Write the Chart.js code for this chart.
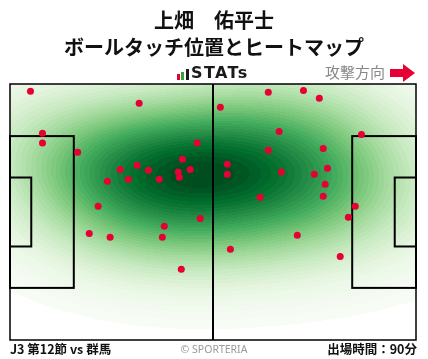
<!DOCTYPE html>
<html lang="ja">
<head>
<meta charset="utf-8">
<script src="https://cdn.jsdelivr.net/npm/chart.js@4.4.0/dist/chart.umd.min.js"></script>
<style>
  html, body { margin: 0; padding: 0; background: #fff; }
  #wrap { position: relative; width: 428px; height: 359px; overflow: hidden; font-family: "Noto Sans CJK JP", sans-serif; }
  #wrap canvas { position: absolute; left: 0; top: 0; }
  .title { position: absolute; left: 0; width: 428px; text-align: center; font-weight: 700; font-size: 20px; line-height: 24px; color: #111; white-space: nowrap; }
  .stats { position: absolute; left: 177px; top: 63px; height: 20px; }
  .stats i { position: absolute; bottom: 3px; width: 3px; }
  .stats span { position: absolute; left: 14px; top: 0; font-family: "DejaVu Sans", sans-serif; font-weight: 700; font-size: 16px; line-height: 20px; letter-spacing: 1.4px; color: #1a1a1a; }
  .dir { position: absolute; left: 325px; top: 62px; font-size: 15px; line-height: 20px; color: #888; }
  .arrow { position: absolute; left: 390px; top: 64px; }
  .foot { position: absolute; top: 341px; font-size: 12.5px; line-height: 16px; font-weight: 700; color: #111; white-space: nowrap; }
  .copy { position: absolute; top: 341px; left: 0; width: 428px; text-align: center; font-family: "Noto Sans", sans-serif; font-size: 10.5px; line-height: 16px; color: #999; }
</style>
</head>
<body>
<div id="wrap">
  <canvas id="pitch-chart" width="428" height="359"></canvas>
  <div class="title" style="top:8px">上畑　佑平士</div>
  <div class="title" style="top:35px">ボールタッチ位置とヒートマップ</div>
  <div class="stats">
    <i style="left:0;height:6px;background:#e60033"></i>
    <i style="left:4px;height:8px;background:#3aa335"></i>
    <i style="left:8.5px;height:11px;background:#1a1a1a"></i>
    <span>STATs</span>
  </div>
  <div class="dir">攻撃方向</div>
  <svg class="arrow" width="25" height="18" viewBox="0 0 25 18">
    <polygon points="0,5 13,5 13,0 25,9 13,18 13,13 0,13" fill="#e60033"/>
  </svg>
  <div class="foot" style="left:10px">J3 第12節 vs 群馬</div>
  <div class="copy">© SPORTERIA</div>
  <div class="foot" style="right:11px">出場時間：90分</div>
</div>
<script>
// ピッチサイズ (m)
const pitchLength = 105;
const pitchWidth = 68;

// ボールタッチ位置
const touchX = [5.3, 8.4, 8.4, 17.5, 25.2, 22.8, 33.4, 48.4, 44.6, 32.9, 28.5, 35.8, 46.6, 43.5, 43.8,
  30.6, 38.6, 66.8, 75.9, 54.4, 69.6, 66.8, 56.2, 56.2, 70.2, 64.7, 80.0, 90.9, 81.0, 82.1,
  78.7, 81.5, 81.0, 89.3, 49.2, 39.9, 20.5, 25.9, 39.4, 44.3, 87.5, 74.3, 57.0, 85.4];
const touchY = [66.1, 54.9, 52.3, 49.9, 42.2, 35.5, 62.9, 52.3, 48.0, 46.4, 45.3, 45.1, 45.3, 44.6, 43.2,
  42.7, 42.7, 65.8, 66.3, 61.8, 55.4, 50.4, 46.7, 44.0, 44.6, 37.9, 64.2, 54.6, 50.9, 45.6,
  44.0, 41.4, 38.2, 35.5, 32.3, 30.2, 28.3, 27.3, 27.3, 18.8, 32.6, 27.8, 24.1, 22.2];

// Greens カラーマップ
const greens = ["#f7fcf5", "#e5f5e0", "#c7e9c0", "#a1d99b", "#74c476", "#41ab5d", "#238b45", "#006d2c", "#00441b"];
const greensRGB = greens.map((h) => [1, 3, 5].map((i) => parseInt(h.substr(i, 2), 16)));

function greenAt(t) {
  const p = Math.min(Math.max(t, 0), 1) * (greensRGB.length - 1);
  const i = Math.min(Math.floor(p), greensRGB.length - 2);
  const f = p - i;
  return greensRGB[i].map((c, k) => c + (greensRGB[i + 1][k] - c) * f);
}

// ガウスKDE (Scott則 × bwAdjust)
function makeKde(xs, ys, bwAdjust) {
  const n = xs.length;
  const mx = xs.reduce((s, v) => s + v, 0) / n;
  const my = ys.reduce((s, v) => s + v, 0) / n;
  let sxx = 0, syy = 0, sxy = 0;
  for (let i = 0; i < n; i++) {
    const dx = xs[i] - mx, dy = ys[i] - my;
    sxx += dx * dx; syy += dy * dy; sxy += dx * dy;
  }
  const f2 = Math.pow(n, -2 / 6) * bwAdjust * bwAdjust;
  const cxx = (sxx / (n - 1)) * f2, cyy = (syy / (n - 1)) * f2, cxy = (sxy / (n - 1)) * f2;
  const det = cxx * cyy - cxy * cxy;
  const ixx = cyy / det, iyy = cxx / det, ixy = -cxy / det;
  return (vx, vy) => {
    let s = 0;
    for (let k = 0; k < n; k++) {
      const dx = vx - xs[k], dy = vy - ys[k];
      s += Math.exp(-0.5 * (ixx * dx * dx + 2 * ixy * dx * dy + iyy * dy * dy));
    }
    return s;
  };
}

// ヒートマップ
const heatmapPlugin = {
  id: "heatmap",
  beforeDatasetsDraw(chart) {
    const { ctx, chartArea: a, scales } = chart;
    const w = Math.round(a.right - a.left);
    const h = Math.round(a.bottom - a.top);
    const kde = makeKde(touchX, touchY, 1.75);

    const grid = new Float64Array(w * h);
    let dmax = 0;
    for (let j = 0; j < h; j++) {
      const vy = scales.y.getValueForPixel(a.top + j + 0.5);
      for (let i = 0; i < w; i++) {
        const d = kde(scales.x.getValueForPixel(a.left + i + 0.5), vy);
        grid[j * w + i] = d;
        if (d > dmax) dmax = d;
      }
    }

    const level = dmax * 0.05; // これ以下は描かない
    const levels = 40;
    const off = document.createElement("canvas");
    off.width = w; off.height = h;
    const octx = off.getContext("2d");
    const img = octx.createImageData(w, h);
    for (let p = 0; p < w * h; p++) {
      const d = grid[p];
      if (d < level) continue;
      const t = Math.floor(((d - level) / (dmax - level)) * levels) / levels;
      const c = greenAt(Math.pow(t, 1.1));
      img.data[p * 4] = c[0];
      img.data[p * 4 + 1] = c[1];
      img.data[p * 4 + 2] = c[2];
      img.data[p * 4 + 3] = 255;
    }
    octx.putImageData(img, 0, 0);
    ctx.drawImage(off, a.left, a.top);
  },
};

// ピッチのライン
const pitchPlugin = {
  id: "pitchLines",
  beforeDatasetsDraw(chart) {
    const { ctx, scales: { x, y } } = chart;
    const rect = (x0, y0, x1, y1) => {
      const px0 = x.getPixelForValue(x0), px1 = x.getPixelForValue(x1);
      const py0 = y.getPixelForValue(y0), py1 = y.getPixelForValue(y1);
      ctx.strokeRect(Math.min(px0, px1), Math.min(py0, py1), Math.abs(px1 - px0), Math.abs(py1 - py0));
    };
    const mid = pitchWidth / 2;
    ctx.save();
    ctx.strokeStyle = "#000";
    ctx.lineWidth = 2;
    rect(0, mid - 20.16, 16.5, mid + 20.16);
    rect(pitchLength - 16.5, mid - 20.16, pitchLength, mid + 20.16);
    rect(0, mid - 9.16, 5.5, mid + 9.16);
    rect(pitchLength - 5.5, mid - 9.16, pitchLength, mid + 9.16);
    ctx.beginPath();
    ctx.moveTo(x.getPixelForValue(pitchLength / 2), y.getPixelForValue(0));
    ctx.lineTo(x.getPixelForValue(pitchLength / 2), y.getPixelForValue(pitchWidth));
    ctx.stroke();
    ctx.lineWidth = 1.5;
    rect(0, 0, pitchLength, pitchWidth);
    ctx.restore();
  },
};

const ctx = document.getElementById("pitch-chart").getContext("2d");
new Chart(ctx, {
  type: "scatter",
  data: {
    datasets: [
      {
        data: touchX.map((v, i) => ({ x: v, y: touchY[i] })),
        backgroundColor: "#e60033",
        borderWidth: 0,
        pointRadius: 3.5,
        clip: false,
      },
    ],
  },
  options: {
    responsive: false,
    animation: false,
    layout: { padding: { left: 10, right: 12, top: 84, bottom: 19 } },
    plugins: { legend: { display: false }, tooltip: { enabled: false } },
    scales: {
      x: { type: "linear", min: 0, max: pitchLength, display: false },
      y: { type: "linear", min: 0, max: pitchWidth, display: false },
    },
  },
  plugins: [heatmapPlugin, pitchPlugin],
});
</script>
</body>
</html>
